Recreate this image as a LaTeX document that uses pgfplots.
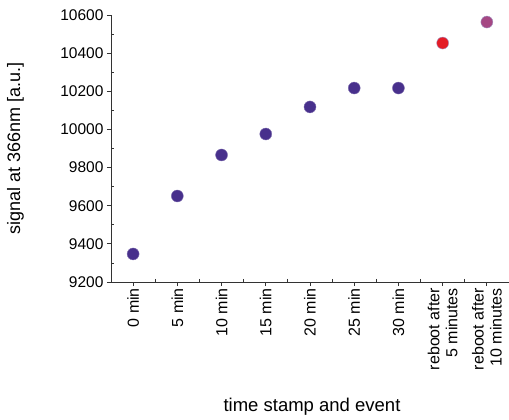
\documentclass[border=0pt]{standalone}
\usepackage{pgfplots}
\pgfplotsset{compat=1.18}
\usepackage{fontspec}
\setmainfont{Liberation Sans}
\definecolor{pur}{RGB}{72,48,140}
\definecolor{redd}{RGB}{228,28,38}
\definecolor{mauve}{RGB}{165,72,132}
\begin{document}
\begin{tikzpicture}
\useasboundingbox (-111pt,-138pt) rectangle (398pt,282pt);
\begin{axis}[
  at={(0,0)}, anchor=south west,
  scale only axis,
  width=398pt, height=267pt,
  xmin=-0.5, xmax=8.5,
  ymin=9200, ymax=10600,
  scaled y ticks=false,
  axis x line*=bottom, axis y line*=left,
  axis line style={-, line width=0.8pt, black!80},
  xtick={0,...,8},
  xticklabels={0 min,5 min,10 min,15 min,20 min,25 min,30 min,{reboot after\\5 minutes},{reboot after\\10 minutes}},
  x tick label style={rotate=90, anchor=east, align=right, font=\fontsize{16}{18}\selectfont, inner sep=2pt},
  ytick={9200,9400,...,10600},
  minor x tick num=1, minor y tick num=1,
  y tick label style={font=\fontsize{15.5}{15.5}\selectfont, /pgf/number format/fixed, /pgf/number format/precision=0},
  /pgf/number format/assume math mode=true,
  /pgf/number format/1000 sep={},
  tick align=outside,
  major tick length=4pt, minor tick length=-3pt,
  tick style={line width=0.8pt, black!80},
  xlabel={time stamp and event},
  ylabel={signal at 366nm [a.u.]},
  every axis x label/.style={at={(axis description cs:0.505,-0.468)}, anchor=center, font=\fontsize{18.5}{18.5}\selectfont},
  every axis y label/.style={at={(axis description cs:-0.24,0.5)}, anchor=center, rotate=90, font=\fontsize{18}{18}\selectfont},
  clip=false,
]
\addplot[only marks, mark=*, mark size=6pt, pur, mark options={draw=pur!70!white, fill=pur}] coordinates {
 (0,9347) (1,9651) (2,9866) (3,9976) (4,10118) (5,10217) (6,10217)
};
\addplot[only marks, mark=*, mark size=6pt, mark options={draw=pur!50!white, fill=redd}] coordinates {(7,10453)};
\addplot[only marks, mark=*, mark size=6pt, mark options={draw=pur!50!white, fill=mauve}] coordinates {(8,10563)};
\end{axis}
\end{tikzpicture}
\end{document}
